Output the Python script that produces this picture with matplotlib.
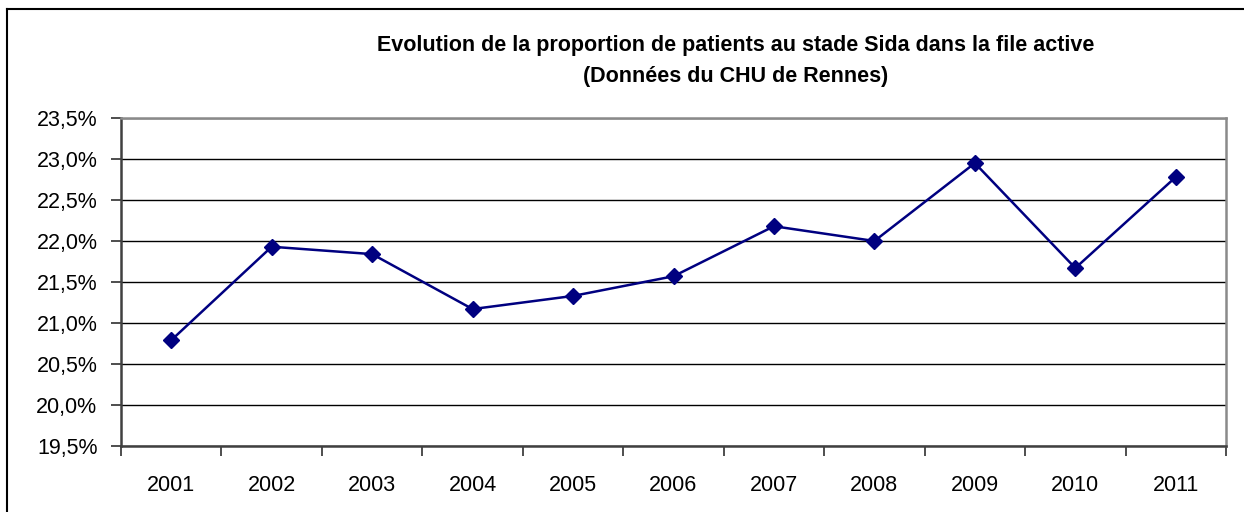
import numpy as np
import matplotlib
matplotlib.use("Agg")
import matplotlib.pyplot as plt
from matplotlib.ticker import FixedLocator, FuncFormatter
from matplotlib.lines import Line2D

# données
annees = ['2001', '2002', '2003', '2004', '2005', '2006', '2007', '2008', '2009', '2010', '2011']
proportion = [20.79, 21.93, 21.84, 21.17, 21.33, 21.57, 22.18, 22.0, 22.95, 21.67, 22.78]
y_ticks = [19.5, 20.0, 20.5, 21.0, 21.5, 22.0, 22.5, 23.0, 23.5]

titre = "Evolution de la proportion de patients au stade Sida dans la file active\n(Données du CHU de Rennes)"

plt.rcParams['font.family'] = ['Liberation Sans', 'DejaVu Sans']

W, H = 1244, 512
fig = plt.figure(figsize=(W / 100, H / 100), dpi=100)

# cadre extérieur (haut et gauche visibles)
fig.add_artist(Line2D([7 / W, 7 / W], [0, 1 - 9 / H], color='black', lw=1.5))
fig.add_artist(Line2D([7 / W, 1], [1 - 9 / H, 1 - 9 / H], color='black', lw=1.5))

ax = fig.add_axes([121 / W, 66 / H, 1105 / W, 328 / H])
x = np.arange(len(annees))
ax.plot(x, proportion, color='#000080', lw=1.8, marker='D', markersize=8, zorder=3)

ax.set_xlim(-0.5, len(annees) - 0.5)
ax.set_ylim(19.5, 23.5)
ax.yaxis.set_major_locator(FixedLocator(y_ticks))
ax.yaxis.set_major_formatter(FuncFormatter(lambda v, p: f"{v:.1f}%".replace('.', ',')))
ax.grid(axis='y', color='black', lw=1)
ax.set_axisbelow(True)

ax.xaxis.set_major_locator(FixedLocator(np.arange(len(annees) + 1) - 0.5))
ax.xaxis.set_major_formatter(FuncFormatter(lambda v, p: ''))
ax.xaxis.set_minor_locator(FixedLocator(x))
ax.set_xticklabels(annees, minor=True)
ax.tick_params(axis='x', which='minor', length=0, pad=21, labelsize=15.5)
ax.tick_params(axis='x', which='major', length=7, width=1.2, color='#303030', direction='out')
ax.tick_params(axis='y', length=7, width=1.2, color='#303030', labelsize=15.5, pad=10)

for s in ['left', 'bottom']:
    ax.spines[s].set_color('#404040')
    ax.spines[s].set_linewidth(1.8)
for s in ['top', 'right']:
    ax.spines[s].set_color('#8a8a8a')
    ax.spines[s].set_linewidth(1.8)

fig.text(736 / W, 1 - 61 / H, titre, ha='center', va='center', fontsize=15.5, fontweight='bold',
         linespacing=1.6)

fig.savefig('out.png', dpi=100)
